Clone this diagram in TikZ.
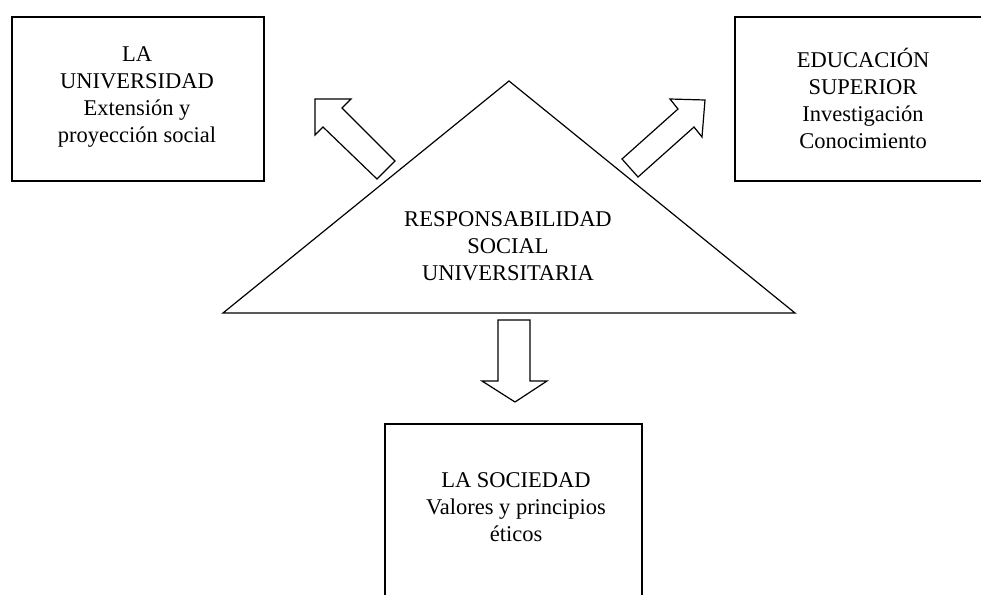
\documentclass[tikz,border=0pt]{standalone}
\usepackage{fontspec}
\setmainfont{Liberation Serif}
\begin{document}
\begin{tikzpicture}[x=1pt,y=-1pt,
  boxline/.style={draw=black, line width=1.6pt, inner sep=0pt, anchor=north west},
  shapeline/.style={draw=black, line width=1.2pt, line join=miter},
  txt/.style={font=\fontsize{22.5}{27}\selectfont, align=center, inner sep=0pt}]
\useasboundingbox (0,0) rectangle (981,594);
\clip (0,0) rectangle (981,594);
\fill[white] (0,0) rectangle (981,594);
% boxes
\node[boxline, minimum width=252pt, minimum height=164pt] (univ) at (11,16) {};
\node[boxline, minimum width=260pt, minimum height=164pt] (edu) at (734,16) {};
\node[boxline, minimum width=257pt, minimum height=200pt] (soc) at (384,423) {};
% texts
\node[txt] (univtext) at (137,97) {LA\\UNIVERSIDAD\\Extensión y\\proyección social};
\node[txt] (edutext) at (863,98) {EDUCACIÓN\\SUPERIOR\\Investigación\\Conocimiento};
\node[txt] (soctext) at (516,507) {LA SOCIEDAD\\Valores y principios\\éticos};
% triangle
\coordinate (apex) at (509,81);
\coordinate (bl) at (223,313);
\coordinate (br) at (795,313);
\draw[shapeline] (bl) -- (apex) -- (br) -- cycle;
\node[txt] (rsutext) at (508,246) {RESPONSABILIDAD\\SOCIAL\\UNIVERSITARIA};
% block arrows
\draw[shapeline] (315,99) -- (351,99) -- (342,108) -- (395,161) -- (377,179) -- (323,127) -- (315,135) -- cycle;
\draw[shapeline] (705,100) -- (670,99) -- (678,109) -- (622,159) -- (638,177) -- (694,127) -- (702,137) -- cycle;
\draw[shapeline] (498,320) -- (530,320) -- (530,381) -- (547,381) -- (515,402) -- (482,381) -- (498,381) -- cycle;
\end{tikzpicture}
\end{document}
